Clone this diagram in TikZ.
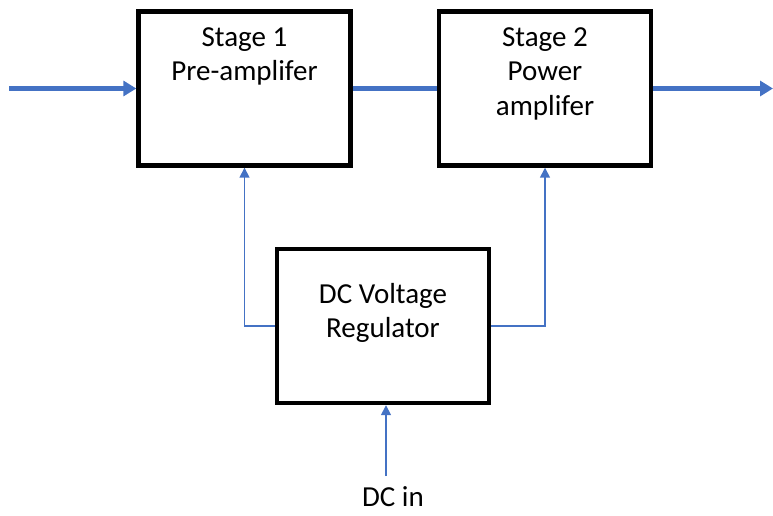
\documentclass[tikz,border=0pt]{standalone}
\usepackage{fontspec}
\setmainfont{Carlito}
\usetikzlibrary{arrows.meta, positioning}
\definecolor{wireblue}{HTML}{4472C4}

\begin{document}
\begin{tikzpicture}[x=0.02cm, y=-0.02cm,
    block/.style={draw, line width=2.5pt, inner sep=0pt, minimum width=42.4mm, minimum height=30.8mm},
    blocktext/.style={inner sep=0pt, align=center, font=\fontsize{16.5}{19.6}\selectfont},
    bus/.style={wireblue, line width=2.8pt, -{Triangle[length=2.6mm, width=3mm]}},
    feed/.style={wireblue, line width=0.85pt, -{Triangle[length=2mm, width=2mm]}}]
  \useasboundingbox (0,0) rectangle (773,515);

  \node[block] (s1) at (244.5, 88.5) {};
  \node[block] (s2) at (545, 88.5) {};
  \node[block] (reg) at (383, 326) {};
  \node[blocktext, below=3.6mm of s1.north] (s1txt) {Stage 1\\Pre-amplifer};
  \node[blocktext, below=3.6mm of s2.north] (s2txt) {Stage 2\\Power\\amplifer};
  \node[blocktext, below=7.2mm of reg.north] (regtxt) {DC Voltage\\Regulator};
  \node[blocktext] (dcin) at (393, 497) {DC in};

  \coordinate (sigin) at (9, 88.5);
  \coordinate (sigout) at (773, 88.5);
  \coordinate (dcfeed) at (386, 476);
  \draw[bus] (sigin) -- (s1.west);
  \draw[bus, -] (s1.east) -- (s2.west);
  \draw[bus] (s2.east) -- (sigout);

  \draw[feed] (reg.west) -| (s1.south);
  \draw[feed] (reg.east) -| (s2.south);
  \draw[feed] (dcfeed) -- (dcfeed |- reg.south);
\end{tikzpicture}
\end{document}
